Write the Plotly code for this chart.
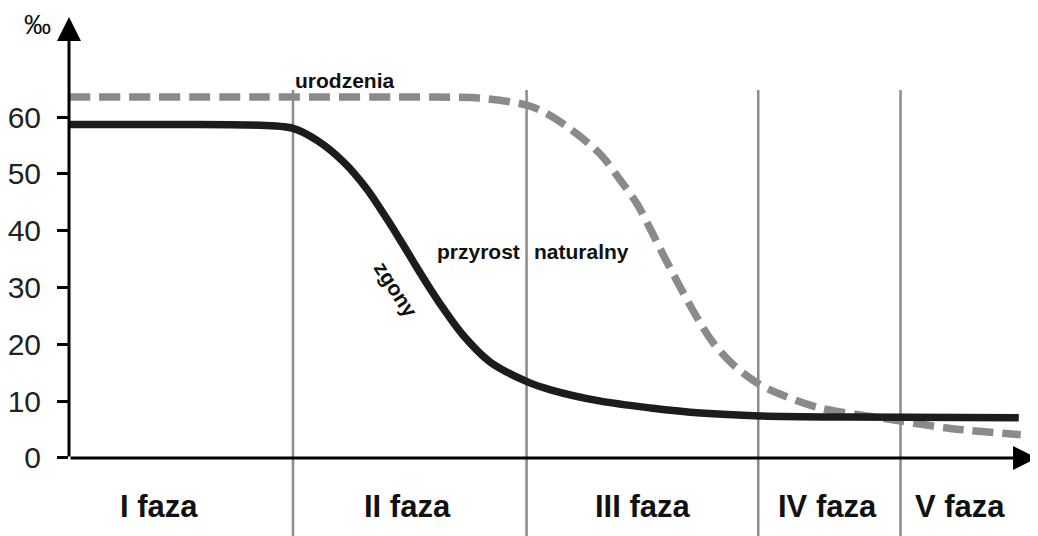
import plotly.graph_objects as go

# ---- data (time in arbitrary units 0..100, rates in per mille) ----
deaths_x = [0, 10, 18.8, 23.3, 25.8, 28.5, 31.0, 33.1, 34.4, 35.8, 37.3, 38.9, 41.0, 43.8, 47.7, 50.1, 55.3, 60.5, 65.7, 71.9, 81.3, 98.8]
deaths_y = [58.7, 58.7, 58.6, 58.0, 55.9, 52.2, 47.3, 42.0, 38.5, 34.6, 30.5, 26.4, 21.6, 16.9, 13.4, 12.0, 10.0, 8.8, 7.9, 7.4, 7.2, 7.1]

births_x = [0, 20, 38, 42.8, 47.6, 49.7, 52.4, 55.3, 57.3, 59.1, 60.5, 61.8, 63.6, 65.3, 67.0, 69.1, 71.6, 74.0, 78.1, 83.4, 86.5, 91.7, 99.0]
births_y = [63.5, 63.5, 63.5, 63.3, 62.1, 60.6, 57.6, 53.4, 49.0, 44.7, 40.2, 35.8, 30.0, 24.8, 20.3, 16.4, 13.2, 11.2, 8.8, 7.3, 6.5, 5.2, 4.1]

phase_bounds = [23.3, 47.6, 71.7, 86.5]
phase_labels = ["I faza", "II faza", "III faza", "IV faza", "V faza"]
phase_label_x = [9.4, 35.2, 59.7, 78.9, 92.7]

y_ticks = [0, 10, 20, 30, 40, 50, 60]

X_MAX = 100.8
Y_MIN, Y_MAX = -13.73, 77.95
FONT = "Liberation Sans, Arial, sans-serif"

fig = go.Figure()

fig.add_trace(go.Scatter(
    x=births_x, y=births_y, mode="lines", name="urodzenia",
    line=dict(color="#8a8a8a", width=7.5, dash="21px,9px", shape="spline", smoothing=0.9),
    hoverinfo="skip"))
fig.add_trace(go.Scatter(
    x=deaths_x, y=deaths_y, mode="lines", name="zgony",
    line=dict(color="#1c1c1c", width=7.5, shape="spline", smoothing=0.9),
    hoverinfo="skip"))

# phase boundaries
for b in phase_bounds:
    fig.add_shape(type="line", xref="x", yref="y", x0=b, x1=b, y0=Y_MIN, y1=64.75,
                  line=dict(color="#8c8c8c", width=2.5), layer="below")

annotations = []
# axes with arrows
annotations.append(dict(x=0, y=77.6, ax=0, ay=0, xref="x", yref="y", axref="x", ayref="y",
                        text="", showarrow=True, arrowhead=2, arrowsize=1.6, arrowwidth=3,
                        arrowcolor="#000000", standoff=0, startstandoff=0))
annotations.append(dict(x=100.7, y=0, ax=0, ay=0, xref="x", yref="y", axref="x", ayref="y",
                        text="", showarrow=True, arrowhead=2, arrowsize=1.6, arrowwidth=3,
                        arrowcolor="#000000", standoff=0, startstandoff=0))

# per mille label (anchored to the top edge of the figure so it is not cut)
annotations.append(dict(x=-0.033, y=1.0134, xref="paper", yref="paper", text="‰",
                        showarrow=False, font=dict(family=FONT, size=27, color="#111111"),
                        xanchor="center", yanchor="top"))

# curve labels
bold = dict(family=FONT, size=21, color="#111111")
annotations.append(dict(x=28.7, y=66.5, xref="x", yref="y", text="<b>urodzenia</b>",
                        showarrow=False, font=bold))
annotations.append(dict(x=42.6, y=36.4, xref="x", yref="y", text="<b>przyrost</b>",
                        showarrow=False, font=bold))
annotations.append(dict(x=53.3, y=36.4, xref="x", yref="y", text="<b>naturalny</b>",
                        showarrow=False, font=bold))
annotations.append(dict(x=34.0, y=29.6, xref="x", yref="y", text="<b>zgony</b>",
                        showarrow=False, font=bold, textangle=57))

# phase labels
for lx, lab in zip(phase_label_x, phase_labels):
    annotations.append(dict(x=lx, y=-8.6, xref="x", yref="y", text="<b>" + lab + "</b>",
                            showarrow=False, font=dict(family=FONT, size=31, color="#111111")))

# the page body adds an 8px margin, so the figure is 8px smaller than the window
fig.update_layout(
    width=1030, height=528,
    margin=dict(l=61, r=0, t=7, b=0),
    paper_bgcolor="white", plot_bgcolor="white",
    showlegend=False,
    annotations=annotations,
    xaxis=dict(range=[0, X_MAX], showgrid=False, zeroline=False, showline=False,
               showticklabels=False, ticks="", fixedrange=True),
    yaxis=dict(range=[Y_MIN, Y_MAX], showgrid=False, zeroline=False, showline=False,
               tickmode="array", tickvals=y_ticks, ticktext=[str(v) for v in y_ticks],
               ticks="outside", ticklen=11, tickwidth=2.5, tickcolor="#000000",
               ticklabelstandoff=10,
               tickfont=dict(family=FONT, size=30, color="#222222"), fixedrange=True),
)

fig.write_html("out.html")
